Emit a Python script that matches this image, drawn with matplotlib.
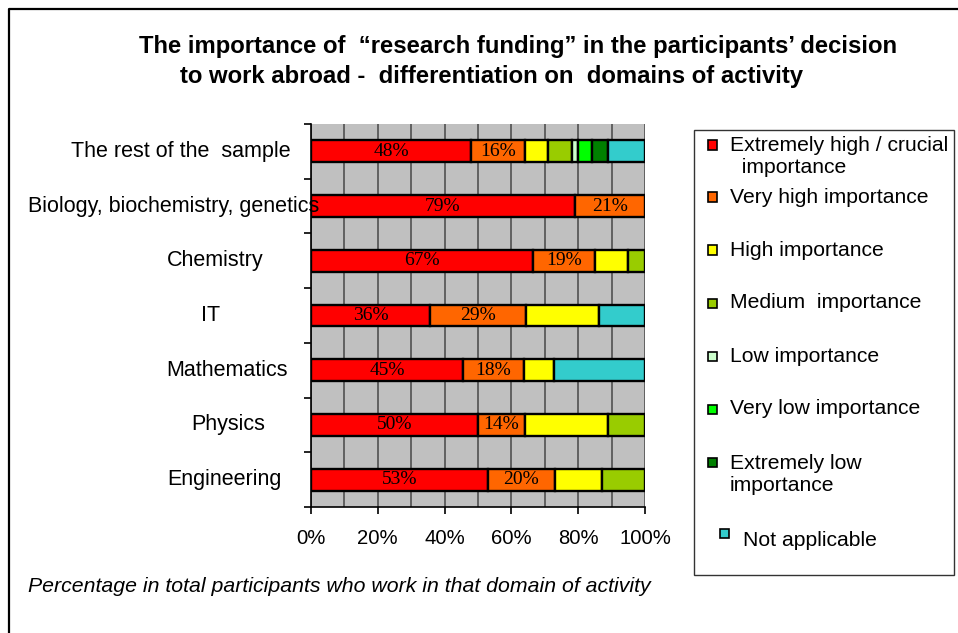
import matplotlib
matplotlib.use("Agg")
import matplotlib.pyplot as plt
from matplotlib.patches import Rectangle
from matplotlib.lines import Line2D
from matplotlib.transforms import blended_transform_factory
import numpy as np

# ---------------- data ----------------
categories = ["The rest of the  sample", "Biology, biochemistry, genetics", "Chemistry",
              "IT", "Mathematics", "Physics", "Engineering"]
series_names = ["Extremely high / crucial\n  importance", "Very high importance",
                "High importance", "Medium  importance", "Low importance",
                "Very low importance", "Extremely low\nimportance", "Not applicable"]
extremely_high = [48, 79, 67, 36, 45, 50, 53]
very_high = [16, 21, 19, 29, 18, 14, 20]
high = [7, 0, 10, 22, 9, 25, 14]
medium = [7, 0, 5, 0, 0, 11, 13]
low = [2, 0, 0, 0, 0, 0, 0]
very_low = [4, 0, 0, 0, 0, 0, 0]
extremely_low = [5, 0, 0, 0, 0, 0, 0]
not_applicable = [11, 0, 0, 14, 27, 0, 0]
x_ticks = [0, 20, 40, 60, 80, 100]

title_line1 = "The importance of  \u201cresearch funding\u201d in the participants\u2019 decision"
title_line2 = "to work abroad -  differentiation on  domains of activity"
footnote = "Percentage in total participants who work in that domain of activity"

colors = ["#FF0000", "#FF6600", "#FFFF00", "#99CC00", "#CCFFCC", "#00FF00", "#008000", "#33CCCC"]

# ---------------- figure ----------------
W, H = 958, 633
fig = plt.figure(figsize=(W / 100, H / 100), dpi=100)
fig.patch.set_facecolor("white")

def fx(px):
    return px / W

def fy(py):
    return 1 - py / H

SANS = ["Liberation Sans", "DejaVu Sans"]
SERIF = ["Liberation Serif", "DejaVu Serif"]

ax = fig.add_axes([fx(311), fy(507), fx(645) - fx(311), fy(124) - fy(507)])
ax.set_facecolor("#C0C0C0")

data = np.array([extremely_high, very_high, high, medium, low, very_low,
                 extremely_low, not_applicable], dtype=float)
totals = data.sum(axis=0)
pct = data / totals * 100
ypos = np.arange(len(categories))
left = np.zeros(len(categories))
for i in range(len(series_names)):
    vals = pct[i]
    mask = vals > 0
    ax.barh(ypos[mask], vals[mask], left=left[mask], height=0.4, color=colors[i],
            edgecolor="black", linewidth=1.7, zorder=3)
    if i < 2:
        for j in np.where(mask)[0]:
            ax.text(left[j] + vals[j] / 2, ypos[j], f"{int(data[i][j])}%",
                    ha="center", va="center", family=SERIF, fontsize=14, zorder=4)
    left = left + vals

ax.set_xlim(0, 100)
ax.set_ylim(len(categories) - 0.5, -0.5)
ax.set_xticks(x_ticks)
ax.set_xticklabels([f"{t}%" for t in x_ticks], family=SANS, fontsize=14.6)
ax.set_xticks(np.arange(0, 101, 10), minor=True)
ax.grid(axis="x", which="both", color="#5A5A5A", linewidth=1.3, zorder=1)
ax.set_axisbelow(True)
ax.tick_params(axis="x", which="major", direction="out", length=5, width=1.2, pad=11)
ax.tick_params(axis="x", which="minor", length=0)
ax.set_yticks(ypos)
ax.set_yticklabels([])
ax.tick_params(axis="y", which="major", length=0)
ax.set_yticks(np.arange(-0.5, len(categories), 1), minor=True)
ax.tick_params(axis="y", which="minor", direction="out", length=5, width=1.2)
for s in ["top", "right"]:
    ax.spines[s].set_visible(False)
for s in ["left", "bottom"]:
    ax.spines[s].set_color("black")
    ax.spines[s].set_linewidth(1.2)

# category labels
label_centers = [180.5, 174, 215.5, 211, 227.5, 228, 224.5]
tr = blended_transform_factory(fig.transFigure, ax.transData)
for j, cat in enumerate(categories):
    ax.text(fx(label_centers[j]), ypos[j], cat, transform=tr, ha="center", va="center",
            family=SANS, fontsize=15.5, zorder=5, clip_on=False)

# title
fig.text(fx(518), fy(46), title_line1, ha="center", va="center", family=SANS,
         fontweight="bold", fontsize=17.2)
fig.text(fx(491), fy(77), title_line2, ha="center", va="center", family=SANS,
         fontweight="bold", fontsize=17.2)

# footnote
fig.text(fx(28), fy(586), footnote, ha="left", va="center", family=SANS,
         style="italic", fontsize=15.3)

# legend (manual)
fig.add_artist(Rectangle((fx(694), fy(575)), fx(954) - fx(694), fy(130) - fy(575),
                         transform=fig.transFigure, facecolor="white",
                         edgecolor="#333333", linewidth=1.0, zorder=1))
text_centers = [156.5, 197, 250, 303, 356, 409, 474.5, 540]
square_centers = [145, 197, 250, 303, 356, 409, 462, 533]
square_x = [708, 708, 708, 708, 708, 708, 708, 720]
text_x = [730, 730, 730, 730, 730, 730, 730, 743]
sq = 9
for i, name in enumerate(series_names):
    fig.add_artist(Rectangle((fx(square_x[i]), fy(square_centers[i] + sq / 2)),
                             sq / W, sq / H, transform=fig.transFigure,
                             facecolor=colors[i], edgecolor="black", linewidth=1.2, zorder=2))
    fig.text(fx(text_x[i]), fy(text_centers[i]), name, ha="left", va="center",
             family=SANS, fontsize=15.2, linespacing=1.2, zorder=3)

# outer border (left and top)
fig.add_artist(Line2D([fx(8.5), fx(8.5), fx(958)], [fy(633), fy(8.5), fy(8.5)],
                      transform=fig.transFigure, color="black", linewidth=1.6))

fig.savefig("out.png", dpi=100)
